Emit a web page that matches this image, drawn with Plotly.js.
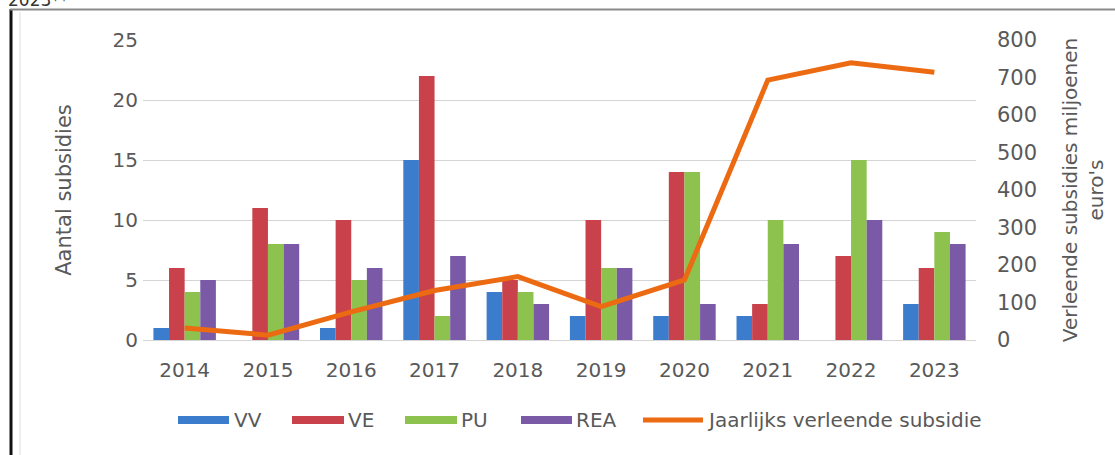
<!DOCTYPE html>
<html><head><meta charset="utf-8">
<script src="https://cdn.plot.ly/plotly-3.0.1.min.js"></script>
<style>html,body{margin:0;padding:0;background:#fff}#chart{width:1115px;height:455px}</style>
</head><body><div id="chart"></div>
<script>
const years = ['2014','2015','2016','2017','2018','2019','2020','2021','2022','2023'];
const VV  = [1, 0, 1, 15, 4, 2, 2, 2, 0, 3];
const VE  = [6, 11, 10, 22, 5, 10, 14, 3, 7, 6];
const PU  = [4, 8, 5, 2, 4, 6, 14, 10, 15, 9];
const REA = [5, 8, 6, 7, 3, 6, 3, 8, 10, 8];
const subsidie = [32, 13, 75, 132, 169, 89, 160, 693, 739, 714];
const leftTicks = [0, 5, 10, 15, 20, 25];
const rightTicks = [0, 100, 200, 300, 400, 500, 600, 700, 800];

const colors = {VV:'#3B7DCC', VE:'#C9414B', PU:'#8DC24E', REA:'#7A5AA6', line:'#EC6A12'};
const font = 'DejaVu Sans, Arial, sans-serif';
const tickColor = '#595959';

const traces = [
  {type:'bar', name:'VV', x:years, y:VV, marker:{color:colors.VV}},
  {type:'bar', name:'VE', x:years, y:VE, marker:{color:colors.VE}},
  {type:'bar', name:'PU', x:years, y:PU, marker:{color:colors.PU}},
  {type:'bar', name:'REA', x:years, y:REA, marker:{color:colors.REA}},
  {type:'scatter', mode:'lines', name:'Jaarlijks verleende subsidie', x:years, y:subsidie, yaxis:'y2',
   line:{color:colors.line, width:5}}
];

// plot area: x 143..976 px, y 40..340 px
const L=143, R=976, T=40, B=340;
const px = v => (v-L)/(R-L);
const py = v => (B-v)/(B-T);

const legendItems = [
  {name:'VV', c:colors.VV, x0:178, x1:229, tx:232, kind:'bar'},
  {name:'VE', c:colors.VE, x0:292, x1:344, tx:346, kind:'bar'},
  {name:'PU', c:colors.PU, x0:405, x1:457, tx:459, kind:'bar'},
  {name:'REA', c:colors.REA, x0:521, x1:572, tx:574, kind:'bar'},
  {name:'Jaarlijks verleende subsidie', c:colors.line, x0:643, x1:703, tx:705, kind:'line'}
];
const shapes = [
  {type:'line', xref:'paper', yref:'paper', x0:px(11), x1:px(11), y0:py(9), y1:py(460), line:{color:'#111', width:3}},
  {type:'line', xref:'paper', yref:'paper', x0:px(20), x1:px(20), y0:py(12), y1:py(460), line:{color:'#dddddd', width:1}},
  {type:'line', xref:'paper', yref:'paper', x0:px(10), x1:px(1120), y0:py(9.5), y1:py(9.5), line:{color:'#8a8a8a', width:2}}
];
const annotations = [
  {xref:'paper', yref:'paper', x:px(6), y:py(12), xanchor:'left', yanchor:'bottom', text:'2023**', showarrow:false,
   font:{family:font, size:17, color:'#333'}}
];
const LY = 420;
legendItems.forEach(it=>{
  if(it.kind==='bar'){
    shapes.push({type:'rect', xref:'paper', yref:'paper', x0:px(it.x0), x1:px(it.x1), y0:py(LY+4), y1:py(LY-4),
      fillcolor:it.c, line:{width:0}});
  } else {
    shapes.push({type:'line', xref:'paper', yref:'paper', x0:px(it.x0), x1:px(it.x1), y0:py(LY), y1:py(LY),
      line:{color:it.c, width:5}});
  }
  annotations.push({xref:'paper', yref:'paper', x:px(it.tx), y:py(LY), xanchor:'left', yanchor:'middle',
    text:it.name, showarrow:false, font:{family:font, size:20, color:tickColor}});
});

const layout = {
  width:1115, height:455,
  margin:{l:L, r:1115-R, t:T, b:455-B, pad:0},
  paper_bgcolor:'#fff', plot_bgcolor:'#fff',
  barmode:'group', bargap:0.25, bargroupgap:0,
  showlegend:false,
  font:{family:font, color:tickColor},
  xaxis:{type:'category', tickfont:{family:font, size:20, color:tickColor}, ticks:'', showgrid:false,
    showline:true, linecolor:'#d4d4d4', linewidth:1, zeroline:false, ticklabelstandoff:12},
  yaxis:{range:[0,25], tickvals:leftTicks, ticktext:leftTicks.map(String), showgrid:true, gridcolor:'#d4d4d4', gridwidth:1,
    zeroline:false, showline:false, ticks:'', tickfont:{family:font, size:20, color:tickColor}, ticklabelstandoff:4,
    title:{text:'Aantal subsidies', font:{family:font, size:21, color:tickColor}, standoff:35}},
  yaxis2:{range:[0,800], overlaying:'y', side:'right', tickvals:rightTicks, ticktext:rightTicks.map(String), showgrid:false,
    zeroline:false, showline:false, ticks:'', tickfont:{family:font, size:21, color:tickColor}, ticklabelstandoff:20,
    title:{text:"Verleende subsidies miljoenen<br>euro's", font:{family:font, size:20, color:tickColor}, standoff:26}},
  shapes:shapes,
  annotations:annotations
};
Plotly.newPlot('chart', traces, layout, {displayModeBar:false, staticPlot:true});
</script></body></html>
